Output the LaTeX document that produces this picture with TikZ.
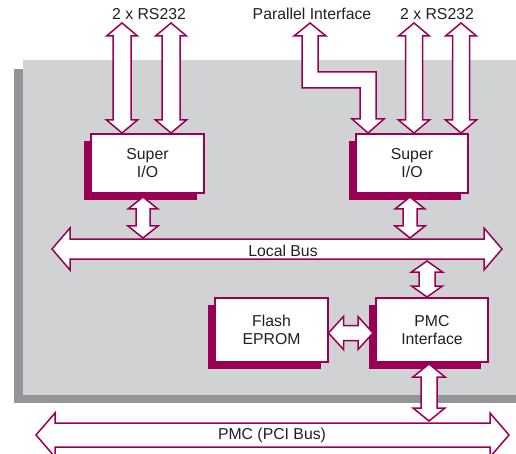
\documentclass[tikz,border=0pt]{standalone}
\usepackage{fontspec}
\setmainfont{Liberation Sans}
\usetikzlibrary{calc,shadows}
\definecolor{pur}{RGB}{153,0,85}
\definecolor{lgray}{RGB}{209,210,212}
\definecolor{dgray}{RGB}{147,149,152}
\definecolor{txt}{RGB}{35,31,32}
\newcommand\dblarrow[5]{%
 \path ($(#1)!#5pt!(#2)$) coordinate (da1) ($(#2)!#5pt!(#1)$) coordinate (da2);
 \draw[fat] (#1) -- ($(da1)!#4pt!90:(#1)$) -- ($(da1)!#3pt!90:(#1)$) -- ($(da2)!#3pt!-90:(#2)$) -- ($(da2)!#4pt!-90:(#2)$) -- (#2) -- ($(da2)!#4pt!90:(#2)$) -- ($(da2)!#3pt!90:(#2)$) -- ($(da1)!#3pt!-90:(#1)$) -- ($(da1)!#4pt!-90:(#1)$) -- cycle;}
\begin{document}
\begin{tikzpicture}[x=1pt,y=-1pt,
  fat/.style={draw=pur,line width=1.5pt,fill=white,line join=miter},
  lbl/.style={font=\fontsize{15.8}{18}\selectfont,text=txt,inner sep=0pt},
  boxst/.style={draw=pur,line width=1.5pt,fill=white,minimum width=113pt,minimum height=59pt,align=center,
    font=\fontsize{15.8}{18}\selectfont,text=txt,
    drop shadow={shadow xshift=-7pt,shadow yshift=-7pt,fill=pur,opacity=1}}]
\useasboundingbox (0,0) rectangle (516,454);
% board
\fill[dgray] (14,69) rectangle (516,403);
\fill[lgray] (23,60) rectangle (516,395);
% labels
\node[lbl] (rs1) at (149,14) {2 x RS232};
\node[lbl] (par) at (312,14) {Parallel Interface};
\node[lbl] (rs2) at (437,14) {2 x RS232};
% boxes
\node[boxst] (sio1) at (147.5,163.5) {Super\\I/O};
\node[boxst,minimum width=112pt] (sio2) at (412,163.5) {Super\\I/O};
\node[boxst,minimum height=64pt] (flash) at (271.5,330) {Flash\\EPROM};
\node[boxst,minimum width=112pt,minimum height=64pt] (pmc) at (432,330) {PMC\\Interface};
% RS232 arrows
\coordinate (a1t) at (122,23); \coordinate (a1b) at (122,133);
\coordinate (a2t) at (171,23); \coordinate (a2b) at (171,133);
\coordinate (a3t) at (414,23); \coordinate (a3b) at (414,133);
\coordinate (a4t) at (461,23); \coordinate (a4b) at (461,133);
\dblarrow{a1t}{a1b}{9}{15.5}{13}
\dblarrow{a2t}{a2b}{9}{15.5}{13}
\dblarrow{a3t}{a3b}{8.5}{15.5}{13}
\dblarrow{a4t}{a4b}{8.5}{15.5}{13}
% parallel interface bent arrow
\draw[fat] (310,23) -- (326,36) -- (318,36) -- (318,72) -- (376,72) -- (376,119) -- (384,119) -- (368,133) -- (352,119) -- (360,119) -- (360,88) -- (302,88) -- (302,36) -- (294,36) -- cycle;
% local bus
\coordinate (lbl) at (52,249); \coordinate (lbr) at (502,249);
\dblarrow{lbl}{lbr}{10}{21}{18}
\node[lbl] (lb) at (283,250.5) {Local Bus};
% PCI bus
\coordinate (pcl) at (36,435); \coordinate (pcr) at (509,435);
\dblarrow{pcl}{pcr}{12}{22}{19}
\node[lbl] (pci) at (272,435.5) {PMC (PCI Bus)};
% small arrows
\coordinate (s1t) at (143,197); \coordinate (s1b) at (143,238);
\coordinate (s2t) at (410,197); \coordinate (s2b) at (410,238);
\dblarrow{s1t}{s1b}{7}{15}{12}
\dblarrow{s2t}{s2b}{7}{15}{12}
\coordinate (p1t) at (427,261); \coordinate (p1b) at (427,297);
\dblarrow{p1t}{p1b}{8}{15.5}{11}
\coordinate (p2t) at (429,364); \coordinate (p2b) at (429,421);
\dblarrow{p2t}{p2b}{8}{16}{13}
\coordinate (fl) at (328.5,333); \coordinate (fr) at (373,333);
\dblarrow{fl}{fr}{7.5}{16.5}{15}
\end{tikzpicture}
\end{document}
